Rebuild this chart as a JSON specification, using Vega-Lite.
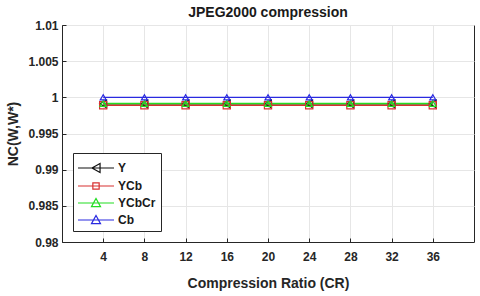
{
  "$schema": "https://vega.github.io/schema/vega-lite/v6.json",
  "width": 412,
  "height": 217,
  "autosize": {"type": "none"},
  "padding": {"left": 62, "top": 25, "right": 6, "bottom": 54},
  "title": {"text": "JPEG2000 compression", "font": "Liberation Sans", "fontSize": 14, "fontWeight": "bold", "color": "#1a1a1a", "offset": -1},
  "config": {
    "view": {"stroke": "#262626", "strokeWidth": 1},
    "font": "Liberation Sans",
    "axis": {"labelFont": "Liberation Sans", "labelFontWeight": "bold", "labelFontSize": 12, "labelColor": "#262626", "titleFont": "Liberation Sans", "titleFontWeight": "bold", "titleFontSize": 14, "titleColor": "#262626", "domainColor": "#262626", "tickColor": "#262626", "gridColor": "#e6e6e6", "gridWidth": 1}
  },
  "data": {"values": [
    {"cr": 4, "series": "Y", "nc": 0.9991}, {"cr": 8, "series": "Y", "nc": 0.9991}, {"cr": 12, "series": "Y", "nc": 0.9991}, {"cr": 16, "series": "Y", "nc": 0.9991}, {"cr": 20, "series": "Y", "nc": 0.9991}, {"cr": 24, "series": "Y", "nc": 0.9991}, {"cr": 28, "series": "Y", "nc": 0.9991}, {"cr": 32, "series": "Y", "nc": 0.9991}, {"cr": 36, "series": "Y", "nc": 0.9991},
    {"cr": 4, "series": "YCb", "nc": 0.9989}, {"cr": 8, "series": "YCb", "nc": 0.9989}, {"cr": 12, "series": "YCb", "nc": 0.9989}, {"cr": 16, "series": "YCb", "nc": 0.9989}, {"cr": 20, "series": "YCb", "nc": 0.9989}, {"cr": 24, "series": "YCb", "nc": 0.9989}, {"cr": 28, "series": "YCb", "nc": 0.9989}, {"cr": 32, "series": "YCb", "nc": 0.9989}, {"cr": 36, "series": "YCb", "nc": 0.9989},
    {"cr": 4, "series": "YCbCr", "nc": 0.99915}, {"cr": 8, "series": "YCbCr", "nc": 0.99915}, {"cr": 12, "series": "YCbCr", "nc": 0.99915}, {"cr": 16, "series": "YCbCr", "nc": 0.99915}, {"cr": 20, "series": "YCbCr", "nc": 0.99915}, {"cr": 24, "series": "YCbCr", "nc": 0.99915}, {"cr": 28, "series": "YCbCr", "nc": 0.99915}, {"cr": 32, "series": "YCbCr", "nc": 0.99915}, {"cr": 36, "series": "YCbCr", "nc": 0.99915},
    {"cr": 4, "series": "Cb", "nc": 1.0}, {"cr": 8, "series": "Cb", "nc": 1.0}, {"cr": 12, "series": "Cb", "nc": 1.0}, {"cr": 16, "series": "Cb", "nc": 1.0}, {"cr": 20, "series": "Cb", "nc": 1.0}, {"cr": 24, "series": "Cb", "nc": 1.0}, {"cr": 28, "series": "Cb", "nc": 1.0}, {"cr": 32, "series": "Cb", "nc": 1.0}, {"cr": 36, "series": "Cb", "nc": 1.0}
  ]},
  "encoding": {
    "x": {"field": "cr", "type": "quantitative", "scale": {"domain": [0, 40], "nice": false}, "axis": {"title": "Compression Ratio (CR)", "values": [4, 8, 12, 16, 20, 24, 28, 32, 36], "tickSize": -4, "labelPadding": 13, "titleY": 34}},
    "y": {"field": "nc", "type": "quantitative", "scale": {"domain": [0.98, 1.01], "nice": false, "zero": false}, "axis": {"title": "NC(W,W*)", "values": [0.98, 0.985, 0.99, 0.995, 1, 1.005, 1.01], "format": "~g", "tickSize": -4, "labelPadding": 8, "titleX": -42}}
  },
  "layer": [
    {
      "mark": {"type": "line", "strokeWidth": 1.4},
      "encoding": {
        "color": {"field": "series", "type": "nominal", "sort": ["Y", "YCb", "YCbCr", "Cb"], "scale": {"domain": ["Y", "YCb", "YCbCr", "Cb"], "range": ["#111111", "#d83030", "#22dd22", "#2a2ae0"]}, "legend": null},
        "order": {"field": "series"}
      }
    },
    {
      "mark": {"type": "point", "filled": false, "strokeWidth": 1.2, "opacity": 1},
      "encoding": {
        "color": {"field": "series", "type": "nominal", "scale": {"domain": ["Y", "YCb", "YCbCr", "Cb"], "range": ["#111111", "#d83030", "#22dd22", "#2a2ae0"]}, "legend": null},
        "shape": {"field": "series", "type": "nominal", "scale": {"domain": ["Y", "YCb", "YCbCr", "Cb"], "range": ["triangle-left", "square", "triangle-up", "triangle-up"]}, "legend": null},
        "size": {"field": "series", "type": "nominal", "scale": {"domain": ["Y", "YCb", "YCbCr", "Cb"], "range": [60, 36, 60, 64]}, "legend": null}
      }
    },
    {
      "mark": {"type": "point", "filled": false, "strokeWidth": 1, "size": 0, "opacity": 1},
      "encoding": {
        "color": {"field": "series", "type": "nominal", "scale": {"domain": ["Y", "YCb", "YCbCr", "Cb"], "range": ["#111111", "#d83030", "#22dd22", "#2a2ae0"]}, "legend": {"title": null, "orient": "bottom-left", "offset": 11, "fillColor": "white", "strokeColor": "#262626", "padding": 5, "symbolSize": 324, "symbolStrokeWidth": 1.2, "symbolOpacity": 1, "symbolOffset": 8, "labelOffset": 12, "labelFont": "Liberation Sans", "labelFontWeight": "bold", "labelFontSize": 12, "labelColor": "#1a1a1a", "rowPadding": 1}},
        "shape": {"field": "series", "type": "nominal", "scale": {"domain": ["Y", "YCb", "YCbCr", "Cb"], "range": ["M-2,0H2M-0.45,0L0.45,-0.5L0.45,0.5Z", "M-2,0H2M-0.35,-0.35H0.35V0.35H-0.35Z", "M-2,0H2M-0.5,0.4L0,-0.5L0.5,0.4Z", "M-2,0H2M-0.5,0.4L0,-0.5L0.5,0.4Z"]}, "legend": {"title": null, "orient": "bottom-left", "offset": 11, "fillColor": "white", "strokeColor": "#262626", "padding": 5, "symbolSize": 324, "symbolStrokeWidth": 1.2, "symbolOpacity": 1, "symbolOffset": 8, "labelOffset": 12, "labelFont": "Liberation Sans", "labelFontWeight": "bold", "labelFontSize": 12, "labelColor": "#1a1a1a", "rowPadding": 1}}
      }
    }
  ],
  "resolve": {"scale": {"color": "independent", "shape": "independent", "size": "independent"}}
}
